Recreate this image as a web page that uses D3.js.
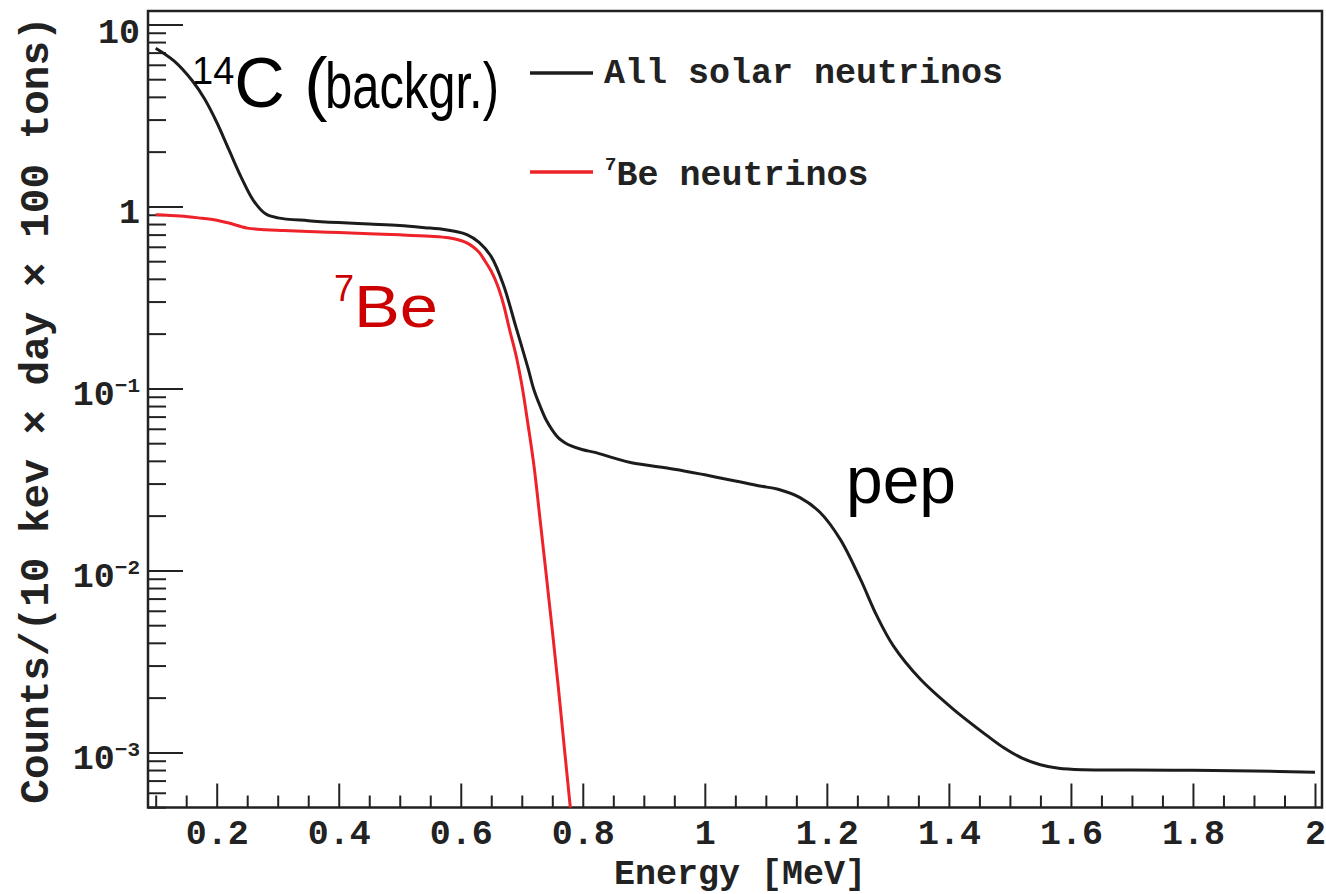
<!DOCTYPE html>
<html>
<head>
<meta charset="utf-8">
<script src="https://cdn.jsdelivr.net/npm/d3@7"></script>
<style>
  html, body { margin: 0; padding: 0; background: #ffffff; }
  svg { display: block; }
  .mono { font-family: "Liberation Mono", "DejaVu Sans Mono", monospace; font-weight: bold; fill: #222; }
  .sans { font-family: "Liberation Sans", Arial, Helvetica, sans-serif; }
</style>
</head>
<body>
<svg id="chart" width="1326" height="894"></svg>
<script>
// Total solar-neutrino recoil spectrum (plus 14C background), energy in MeV
const energyAll = [0.10, 0.13, 0.16, 0.18, 0.20, 0.22, 0.24, 0.26, 0.28, 0.30,
  0.35, 0.40, 0.45, 0.50, 0.55, 0.57, 0.59, 0.61, 0.63, 0.65, 0.67, 0.69, 0.71,
  0.72, 0.73, 0.74, 0.75, 0.76, 0.77, 0.78, 0.80, 0.82, 0.85, 0.88, 0.95, 1.00,
  1.05, 1.09, 1.12, 1.156, 1.189, 1.222, 1.255, 1.282, 1.309, 1.353, 1.407,
  1.462, 1.49, 1.52, 1.55, 1.58, 1.62, 1.70, 1.80, 1.90, 2.00];
const countsAll = [7.4, 6.3, 4.9, 3.9, 2.9, 2.05, 1.45, 1.08, 0.91, 0.865,
  0.835, 0.815, 0.80, 0.785, 0.76, 0.75, 0.73, 0.70, 0.635, 0.53, 0.37, 0.22, 0.13,
  0.098, 0.080, 0.067, 0.059, 0.0535, 0.0505, 0.0485, 0.046, 0.0445, 0.0415, 0.039, 0.036, 0.0335,
  0.031, 0.0291, 0.0279, 0.0251, 0.0208, 0.0148, 0.00895, 0.00562, 0.00385, 0.00253, 0.00173,
  0.00124, 0.00106, 0.00093, 0.000855, 0.000818, 0.000803, 0.0008, 0.000797, 0.00079, 0.000778];

// 7Be neutrino component
const energyBe = [0.10, 0.14, 0.17, 0.20, 0.22, 0.25, 0.28, 0.31, 0.35, 0.40,
  0.45, 0.50, 0.55, 0.58, 0.60, 0.61, 0.62, 0.63, 0.64, 0.65, 0.66, 0.67, 0.68,
  0.69, 0.70, 0.71, 0.72, 0.73, 0.74, 0.75, 0.76, 0.77, 0.78];
const countsBe = [0.90, 0.885, 0.865, 0.84, 0.81, 0.76, 0.745, 0.738, 0.728, 0.718,
  0.708, 0.698, 0.685, 0.672, 0.65, 0.63, 0.60, 0.56, 0.50, 0.44, 0.37, 0.29, 0.21,
  0.155, 0.105, 0.064, 0.0375, 0.019, 0.0095, 0.0047, 0.00226, 0.00104, 0.00048];

const xTickValues = [0.2, 0.4, 0.6, 0.8, 1.0, 1.2, 1.4, 1.6, 1.8, 2.0];
const xTickLabels = ["0.2", "0.4", "0.6", "0.8", "1", "1.2", "1.4", "1.6", "1.8", "2"];
const yTickValues = [1e-3, 1e-2, 1e-1, 1, 10];
const yTickBase = ["10", "10", "10", "1", "10"];
const yTickExp = ["\u22123", "\u22122", "\u22121", "", ""];

const legendNames = ["All solar neutrinos", "Be neutrinos"];
const legendColors = ["#1c1c1c", "#ee2229"];

const svg = d3.select("#chart");
const plotLeft = 148, plotRight = 1322, plotTop = 11, plotBottom = 807.5;

const x = d3.scaleLinear().domain([0.0874, 2.0115]).range([plotLeft, plotRight]);
const y = d3.scaleLog().domain([4.98e-4, 11.85]).range([plotBottom, plotTop]);

svg.append("defs").append("clipPath").attr("id", "plotClip")
  .append("rect").attr("x", plotLeft).attr("y", plotTop)
  .attr("width", plotRight - plotLeft).attr("height", plotBottom - plotTop);

// Minor ticks: every 0.05 MeV on x, 2..9 per decade on y
const xMinor = d3.range(0.10, 2.001, 0.05).map(v => +v.toFixed(2))
  .filter(v => !xTickValues.some(t => Math.abs(t - v) < 1e-6));
const yMinor = [];
[-4, -3, -2, -1, 0].forEach(e => {
  for (let m = 2; m <= 9; m++) {
    const v = m * Math.pow(10, e);
    if (v >= 4.98e-4 && v <= 11.85) yMinor.push(v);
  }
});

// x axis (major, labelled)
const gx = svg.append("g").attr("transform", `translate(0,${plotBottom})`)
  .call(d3.axisBottom(x).tickValues(xTickValues).tickSize(-24)
    .tickFormat((d, i) => xTickLabels[i]));
gx.select(".domain").remove();
gx.selectAll(".tick line").attr("stroke", "#222").attr("stroke-width", 2);
gx.selectAll(".tick text").attr("class", "mono").attr("font-size", 35)
  .attr("y", 36).attr("dy", 0).attr("fill", "#222");

const gxm = svg.append("g").attr("transform", `translate(0,${plotBottom})`)
  .call(d3.axisBottom(x).tickValues(xMinor).tickSize(-12).tickFormat(""));
gxm.select(".domain").remove();
gxm.selectAll(".tick line").attr("stroke", "#222").attr("stroke-width", 2);

// y axis (major, labelled with powers of ten)
const gy = svg.append("g").attr("transform", `translate(${plotLeft},0)`)
  .call(d3.axisLeft(y).tickValues(yTickValues).tickSize(-35).tickFormat(""));
gy.select(".domain").remove();
gy.selectAll(".tick line").attr("stroke", "#222").attr("stroke-width", 2);
gy.selectAll(".tick text").remove();
gy.selectAll(".tick").each(function (d, i) {
  const t = d3.select(this).append("text").attr("class", "mono")
    .attr("text-anchor", "end").attr("x", -8)
    .attr("y", i === yTickValues.length - 1 ? 18 : 16);
  t.append("tspan").attr("font-size", 35).text(yTickBase[i]);
  if (yTickExp[i]) {
    t.append("tspan").attr("font-size", 21).attr("dy", -12.5).text(yTickExp[i]);
  }
});

const gym = svg.append("g").attr("transform", `translate(${plotLeft},0)`)
  .call(d3.axisLeft(y).tickValues(yMinor).tickSize(-18).tickFormat(""));
gym.select(".domain").remove();
gym.selectAll(".tick line").attr("stroke", "#222").attr("stroke-width", 2);

// Frame
svg.append("rect").attr("x", plotLeft).attr("y", plotTop)
  .attr("width", plotRight - plotLeft).attr("height", plotBottom - plotTop)
  .attr("fill", "none").attr("stroke", "#222").attr("stroke-width", 2.5);

// Curves (smooth spline through the sampled spectrum)
const line = d3.line()
  .x(d => x(d[0])).y(d => y(d[1]))
  .curve(d3.curveCatmullRom.alpha(0.5));

svg.append("path")
  .datum(energyBe.map((e, i) => [e, countsBe[i]]))
  .attr("clip-path", "url(#plotClip)")
  .attr("d", line).attr("fill", "none")
  .attr("stroke", legendColors[1]).attr("stroke-width", 3);

svg.append("path")
  .datum(energyAll.map((e, i) => [e, countsAll[i]]))
  .attr("clip-path", "url(#plotClip)")
  .attr("d", line).attr("fill", "none")
  .attr("stroke", legendColors[0]).attr("stroke-width", 3);

// Legend
const legY = [73, 172];
legendNames.forEach((name, i) => {
  svg.append("line").attr("x1", 530).attr("x2", 593)
    .attr("y1", legY[i]).attr("y2", legY[i])
    .attr("stroke", legendColors[i]).attr("stroke-width", 3.5);
});
svg.append("text").attr("class", "mono").attr("font-size", 35)
  .attr("x", 604).attr("y", 83).text(legendNames[0]);
const leg2 = svg.append("text").attr("class", "mono").attr("x", 605).attr("y", 170);
leg2.append("tspan").attr("font-size", 19).text("7");
leg2.append("tspan").attr("font-size", 35).attr("dy", 15).text(legendNames[1]);

// Axis titles
svg.append("text").attr("class", "mono").attr("font-size", 35)
  .attr("text-anchor", "middle").attr("x", 740).attr("y", 884)
  .text("Energy [MeV]");
svg.append("text").attr("class", "mono").attr("font-size", 41)
  .attr("text-anchor", "middle")
  .attr("transform", "translate(48,410) rotate(-90)")
  .text("Counts/(10 kev \u00d7 day \u00d7 100 tons)");

// Annotations
const ann = svg.append("g").attr("class", "sans");
const c14 = ann.append("text").attr("x", 192).attr("y", 107).attr("fill", "#000");
c14.append("tspan").attr("font-size", 38).attr("dy", -23).text("14");
c14.append("tspan").attr("font-size", 70).attr("dy", 23).text("C (");
ann.append("text").attr("x", 325).attr("y", 108).attr("font-size", 64)
  .attr("textLength", 174).attr("lengthAdjust", "spacingAndGlyphs").attr("fill", "#000").text("backgr.)");

ann.append("text").attr("x", 334).attr("y", 301).attr("font-size", 36).attr("fill", "#cc0000").text("7");
ann.append("text").attr("x", 354).attr("y", 327).attr("font-size", 60)
  .attr("textLength", 84).attr("lengthAdjust", "spacingAndGlyphs").attr("fill", "#cc0000").text("Be");

ann.append("text").attr("x", 846).attr("y", 503).attr("font-size", 66)
  .attr("textLength", 110).attr("lengthAdjust", "spacingAndGlyphs").attr("fill", "#000").text("pep");
</script>
</body>
</html>
